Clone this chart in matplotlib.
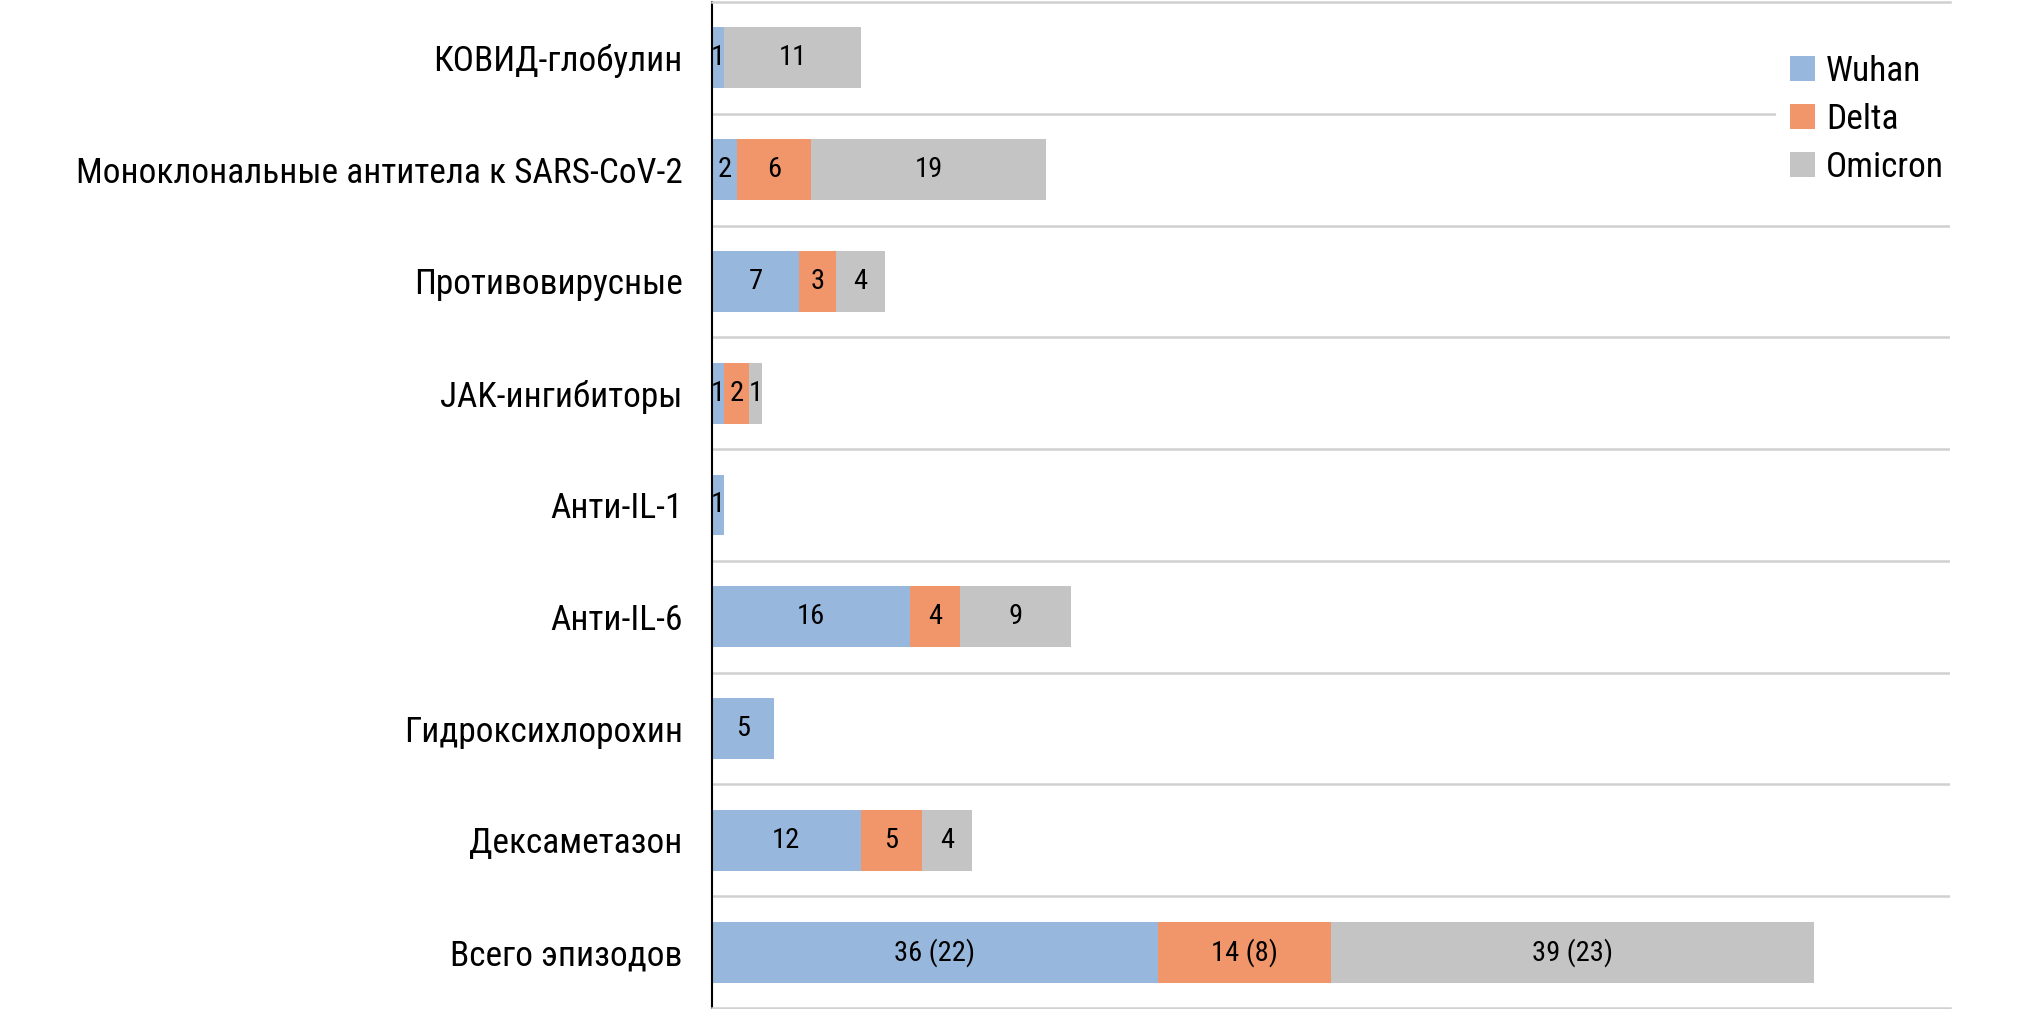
import numpy as np
import matplotlib
matplotlib.use("Agg")
import matplotlib.pyplot as plt
from matplotlib import font_manager

# шрифт: узкий, если есть
names = set(f.name for f in font_manager.fontManager.ttflist)
for fam in ['Roboto Condensed', 'Liberation Sans Narrow', 'Roboto']:
    if fam in names:
        break
plt.rcParams['font.family'] = [fam, 'DejaVu Sans']

# данные
categories = ['КОВИД-глобулин', 'Моноклональные антитела к SARS-CoV-2', 'Противовирусные',
              'JAK-ингибиторы', 'Анти-IL-1', 'Анти-IL-6', 'Гидроксихлорохин',
              'Дексаметазон', 'Всего эпизодов']
series = ['Wuhan', 'Delta', 'Omicron']
wuhan = [1, 2, 7, 1, 1, 16, 5, 12, 36]
delta = [0, 6, 3, 2, 0, 4, 0, 5, 14]
omicron = [11, 19, 4, 1, 0, 9, 0, 4, 39]
patients_total = [22, 8, 23]   # в скобках в строке "Всего эпизодов"
colors = ['#97b7dd', '#f0966a', '#c4c4c4']

fig = plt.figure(figsize=(20.2, 10.09), dpi=100)
ax = fig.add_axes([712 / 2020, 1 / 1009, 1238 / 2020, 1006 / 1009])

y = np.arange(len(categories))
left = np.zeros(len(categories))
for i, (name, vals) in enumerate(zip(series, [wuhan, delta, omicron])):
    vals = np.array(vals)
    bars = ax.barh(y, vals, left=left, height=0.545, color=colors[i], label=name)
    labels = [str(v) if v > 0 else '' for v in vals]
    labels[-1] = f'{vals[-1]} ({patients_total[i]})'
    ax.bar_label(bars, labels=labels, label_type='center', fontsize=20.5, color='black')
    left += vals

ax.set_xlim(0, 100)
ax.set_ylim(len(categories) - 0.5, -0.5)
ax.set_yticks(y, categories, fontsize=25.5)
ax.tick_params(axis='y', length=0, pad=21)
ax.set_xticks([])

# линии сетки между категориями
ax.set_yticks(np.arange(0.5, len(categories) - 1, 1), minor=True)
ax.tick_params(axis='y', which='minor', length=0)
ax.grid(axis='y', which='minor', color='#d0d0d0', linewidth=1.8)
ax.set_axisbelow(True)

ax.spines['right'].set_visible(False)
ax.spines['top'].set_color('#d0d0d0')
ax.spines['bottom'].set_color('#d0d0d0')
ax.spines['top'].set_linewidth(1.8)
ax.spines['bottom'].set_linewidth(1.8)
ax.spines['left'].set_color('black')
ax.spines['left'].set_linewidth(1.5)

leg = ax.legend(loc='upper left', bbox_to_anchor=(1758 / 2020, 1 - 23 / 1009),
                bbox_transform=fig.transFigure, fontsize=25.5, frameon=True,
                facecolor='white', edgecolor='none', framealpha=1, fancybox=False,
                handlelength=0.72, handleheight=0.72, handletextpad=0.3,
                labelspacing=0.42)

fig.savefig('out.png', dpi=100, facecolor='white')
